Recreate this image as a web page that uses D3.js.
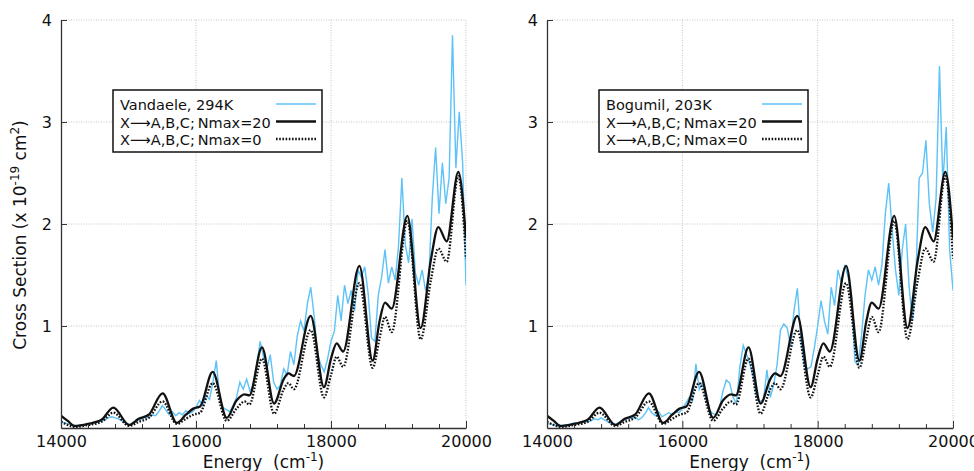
<!DOCTYPE html>
<html>
<head>
<meta charset="utf-8">
<script src="https://cdn.jsdelivr.net/npm/d3@7"></script>
<style>
  body { margin: 0; background: #fff; }
  svg { font-family: "DejaVu Sans", sans-serif; }
</style>
</head>
<body>
<svg id="chart" width="974" height="471"></svg>
<script>
// measured spectra are sampled every 50 cm-1 from 14000 to 20000
const sampleStart = 14000, sampleStep = 50;

const vandaele294 = [
  0.06, 0.05, 0.04, 0.03, 0.02, 0.02, 0.03, 0.03, 0.04, 0.04,
  0.05, 0.06, 0.07, 0.08, 0.10, 0.11, 0.10, 0.09, 0.07, 0.05,
  0.03, 0.04, 0.06, 0.08, 0.09, 0.11, 0.10, 0.13, 0.12, 0.16,
  0.22, 0.18, 0.13, 0.16, 0.12, 0.15, 0.13, 0.17, 0.14, 0.16,
  0.20, 0.27, 0.22, 0.32, 0.28, 0.45, 0.66, 0.30, 0.20, 0.18,
  0.16, 0.22, 0.30, 0.45, 0.38, 0.48, 0.36, 0.42, 0.62, 0.85,
  0.70, 0.58, 0.72, 0.45, 0.38, 0.42, 0.58, 0.52, 0.75, 0.62,
  0.90, 1.05, 0.95, 1.22, 1.38, 1.10, 0.72, 0.62, 0.55, 0.68,
  0.85, 0.95, 1.30, 1.05, 1.40, 1.22, 1.35, 1.15, 1.55, 1.48,
  1.58, 1.32, 0.88, 0.85, 1.30, 1.48, 1.75, 1.42, 1.58, 1.45,
  1.78, 2.45, 1.80, 1.62, 2.05, 1.52, 1.40, 1.55, 1.35, 1.48,
  2.25, 2.75, 2.10, 2.60, 2.20, 2.45, 3.85, 2.55, 3.10, 2.60,
  1.40
];

const bogumil203 = [
  0.04, 0.04, 0.03, 0.02, 0.02, 0.03, 0.03, 0.04, 0.05, 0.05,
  0.05, 0.06, 0.06, 0.07, 0.09, 0.08, 0.10, 0.08, 0.06, 0.04,
  0.03, 0.05, 0.07, 0.08, 0.10, 0.09, 0.11, 0.08, 0.10, 0.14,
  0.20, 0.15, 0.12, 0.16, 0.11, 0.13, 0.15, 0.13, 0.16, 0.15,
  0.19, 0.24, 0.30, 0.26, 0.63, 0.38, 0.45, 0.28, 0.18, 0.14,
  0.13, 0.20, 0.36, 0.47, 0.44, 0.30, 0.24, 0.60, 0.81, 0.72,
  0.62, 0.50, 0.30, 0.26, 0.28, 0.57, 0.30, 0.42, 0.62, 0.96,
  1.02, 0.98, 0.80, 1.15, 1.37, 0.90, 0.62, 0.58, 0.60, 0.78,
  1.00, 1.25, 1.05, 0.92, 1.38, 1.20, 1.55, 1.42, 1.60, 1.48,
  1.30, 0.65, 0.62, 0.92, 1.30, 1.55, 1.45, 1.58, 1.40, 1.60,
  2.10, 2.40, 1.95, 1.55, 1.30, 1.75, 2.00, 1.40, 1.05, 1.45,
  2.45, 2.50, 2.82, 2.20, 1.92, 2.25, 3.55, 2.40, 2.95, 1.75,
  1.35
];

// calculated spectra (same in both panels), nodes at peaks, dips and shoulders
const theoryEnergy = [
  14000, 14100, 14200, 14400, 14600, 14775, 15010, 15150, 15300, 15505,
  15715, 15850, 15960, 16060, 16247, 16455, 16600, 16720, 16790, 16978,
  17156, 17300, 17370, 17450, 17699, 17896, 18000, 18084, 18180, 18420,
  18617, 18720, 18800, 18900, 19131, 19328, 19480, 19590, 19714, 19886,
  20000
];
const nmax20 = [
  0.12, 0.07, 0.02, 0.04, 0.08, 0.20, 0.03, 0.09, 0.13, 0.34,
  0.05, 0.13, 0.19, 0.21, 0.55, 0.10, 0.27, 0.33, 0.32, 0.79,
  0.24, 0.48, 0.535, 0.51, 1.10, 0.40, 0.68, 0.83, 0.75, 1.59,
  0.66, 1.05, 1.23, 1.17, 2.08, 0.98, 1.65, 1.97, 1.83, 2.51,
  1.86
];
const nmax0 = [
  0.06, 0.03, 0.01, 0.03, 0.06, 0.15, 0.02, 0.06, 0.10, 0.26,
  0.04, 0.09, 0.13, 0.15, 0.44, 0.07, 0.19, 0.26, 0.23, 0.68,
  0.14, 0.38, 0.44, 0.38, 0.96, 0.30, 0.52, 0.70, 0.60, 1.42,
  0.59, 0.88, 1.09, 0.94, 2.03, 0.87, 1.45, 1.76, 1.63, 2.47,
  1.66
];

const xMajor = [14000, 16000, 18000, 20000];
const xMinor = [14400, 14800, 15200, 15600, 16400, 16800, 17200, 17600,
                18400, 18800, 19200, 19600];
const yTicks = [1, 2, 3, 4];

const panels = [
  { left: 61, right: 466, label: 'Vandaele, 294K', data: vandaele294, yTitle: true },
  { left: 547, right: 953, label: 'Bogumil, 203K', data: bogumil203, yTitle: false }
];

const svg = d3.select('#chart');
const plotTop = 20, plotBottom = 428;
const blue = '#5cc2f7';

panels.forEach((p, idx) => {
  const x = d3.scaleLinear().domain([14000, 20000]).range([p.left, p.right]);
  const y = d3.scaleLinear().domain([0, 4]).range([plotBottom, plotTop]);
  const g = svg.append('g');

  // dotted grid
  g.append('g').selectAll('line').data(xMajor.slice(1)).enter().append('line')
    .attr('x1', (d) => x(d)).attr('x2', (d) => x(d))
    .attr('y1', plotTop).attr('y2', plotBottom)
    .attr('stroke', '#c4c4c4').attr('stroke-dasharray', '1,1.5');
  g.append('g').selectAll('line').data(yTicks).enter().append('line')
    .attr('x1', p.left).attr('x2', p.right)
    .attr('y1', (d) => y(d)).attr('y2', (d) => y(d))
    .attr('stroke', '#c4c4c4').attr('stroke-dasharray', '1,1.5');

  svg.append('clipPath').attr('id', `clip${idx}`).append('rect')
    .attr('x', p.left).attr('y', plotTop - 2)
    .attr('width', p.right - p.left).attr('height', plotBottom - plotTop + 2);

  const plot = g.append('g').attr('clip-path', `url(#clip${idx})`);

  const measured = p.data.map((v, i) => ({ e: sampleStart + i * sampleStep, v: v }));
  const lineM = d3.line().x((d) => x(d.e)).y((d) => y(d.v));
  plot.append('path').datum(measured)
    .attr('d', lineM).attr('fill', 'none')
    .attr('stroke', blue).attr('stroke-width', 1.4);

  const lineT = d3.line().curve(d3.curveMonotoneX)
    .x((d, i) => x(theoryEnergy[i])).y((d) => y(d));
  plot.append('path').datum(nmax0)
    .attr('d', lineT).attr('fill', 'none')
    .attr('stroke', '#111').attr('stroke-width', 2.3)
    .attr('stroke-dasharray', '1.6,1.6');
  plot.append('path').datum(nmax20)
    .attr('d', lineT).attr('fill', 'none')
    .attr('stroke', '#111').attr('stroke-width', 2.3);

  // axes, ticks point inwards
  g.append('g').attr('transform', `translate(0,${plotBottom})`)
    .call(d3.axisBottom(x).tickValues(xMajor).tickSizeInner(-7).tickSizeOuter(0)
      .tickPadding(8).tickFormat(d3.format('d')));
  g.append('g').attr('transform', `translate(0,${plotBottom})`)
    .call(d3.axisBottom(x).tickValues(xMinor).tickSizeInner(-4).tickSizeOuter(0)
      .tickFormat(''))
    .select('.domain').remove();
  g.append('g').attr('transform', `translate(${p.left},0)`)
    .call(d3.axisLeft(y).tickValues(yTicks).tickSizeInner(-6).tickSizeOuter(0)
      .tickPadding(9).tickFormat(d3.format('d')));
  g.selectAll('.domain').attr('stroke', '#333').attr('stroke-width', 1.3);
  g.selectAll('.tick line').attr('stroke', '#333');
  g.selectAll('.tick text').attr('font-size', 16).attr('fill', '#111')
    .attr('font-family', 'DejaVu Sans, sans-serif');

  // x title
  const xt = g.append('text')
    .attr('x', (p.left + p.right) / 2).attr('y', 468)
    .attr('text-anchor', 'middle').attr('font-size', 17).attr('fill', '#111')
    .style('white-space', 'pre');
  xt.append('tspan').text('Energy  (cm');
  xt.append('tspan').attr('baseline-shift', 'super').attr('font-size', 12).text('-1');
  xt.append('tspan').text(')');

  if (p.yTitle) {
    const yt = g.append('text')
      .attr('transform', `translate(26,${(plotTop + plotBottom) / 2 + 11}) rotate(-90)`)
      .attr('text-anchor', 'middle').attr('font-size', 17).attr('fill', '#111');
    yt.append('tspan').text('Cross Section (x 10');
    yt.append('tspan').attr('baseline-shift', 'super').attr('font-size', 12).text('-19');
    yt.append('tspan').text(' cm');
    yt.append('tspan').attr('baseline-shift', 'super').attr('font-size', 12).text('2');
    yt.append('tspan').text(')');
  }

  // legend
  const lx = p.left + 52, ly = 90, lw = 209, lh = 62;
  const lg = g.append('g');
  lg.append('rect').attr('x', lx).attr('y', ly).attr('width', lw).attr('height', lh)
    .attr('fill', '#fff').attr('stroke', '#111').attr('stroke-width', 1.5);
  const entries = [
    { text: p.label, stroke: blue, w: 1.4, dash: null },
    { text: 'X\u27F6A,B,C;\u2009Nmax=20', stroke: '#111', w: 2.3, dash: null },
    { text: 'X\u27F6A,B,C;\u2009Nmax=0', stroke: '#111', w: 2.3, dash: '1.6,1.6' }
  ];
  entries.forEach((e, i) => {
    const cy = ly + 14 + i * 17.5;
    lg.append('text').attr('x', lx + 7).attr('y', cy + 6)
      .attr('font-size', 14.5).attr('fill', '#111').text(e.text);
    lg.append('line').attr('x1', lx + lw - 46).attr('x2', lx + lw - 6)
      .attr('y1', cy).attr('y2', cy)
      .attr('stroke', e.stroke).attr('stroke-width', e.w)
      .attr('stroke-dasharray', e.dash);
  });
});
</script>
</body>
</html>
